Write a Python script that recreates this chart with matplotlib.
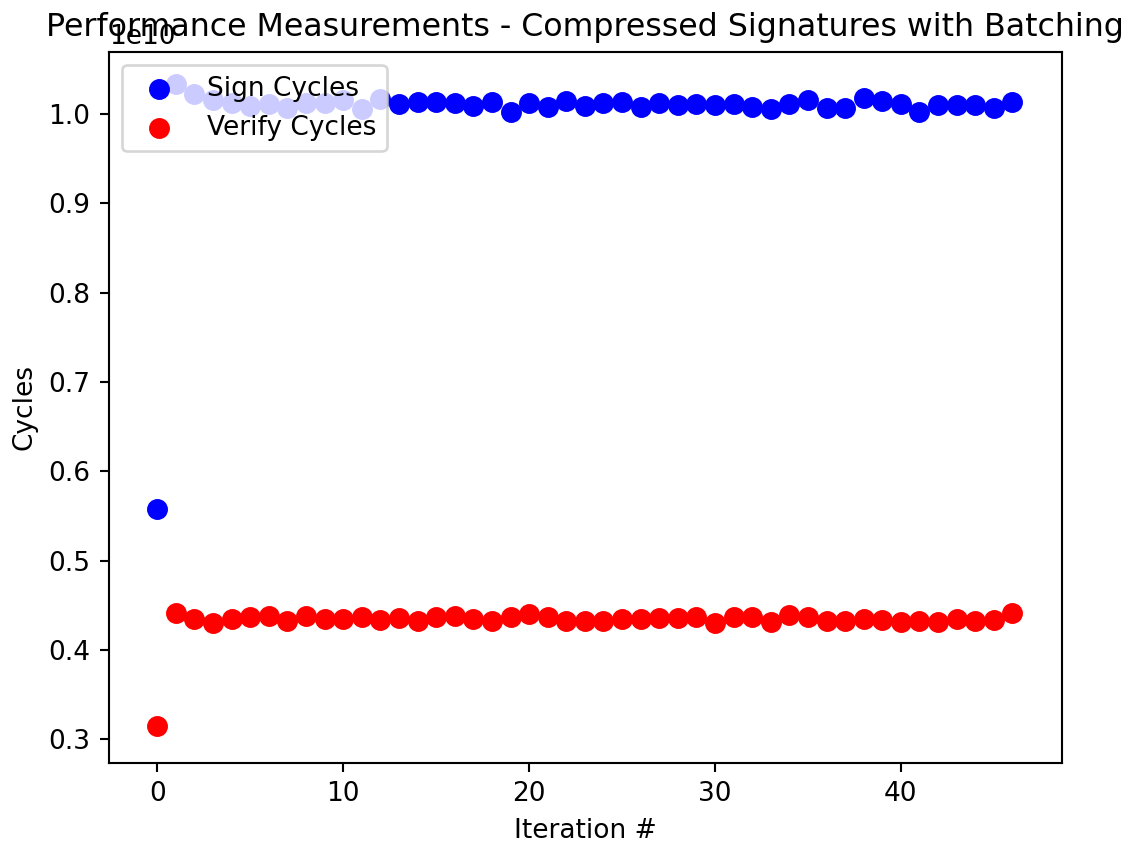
import matplotlib
matplotlib.use("Agg")
import matplotlib.pyplot as plt

iterations = list(range(47))
sign_cycles = [0.5578, 1.0333, 1.0220, 1.0157, 1.0120, 1.0090, 1.0110, 1.0070,
               1.0120, 1.0120, 1.0157, 1.0053, 1.0164, 1.0110, 1.0138, 1.0131,
               1.0120, 1.0093, 1.0138, 1.0026, 1.0120, 1.0078, 1.0146, 1.0093,
               1.0120, 1.0138, 1.0082, 1.0120, 1.0101, 1.0108, 1.0101, 1.0112,
               1.0075, 1.0056, 1.0112, 1.0157, 1.0071, 1.0071, 1.0175, 1.0149,
               1.0108, 1.0026, 1.0101, 1.0101, 1.0101, 1.0071, 1.0131]
verify_cycles = [0.3146, 0.4411, 0.4343, 0.4305, 0.4343, 0.4372, 0.4380, 0.4328,
                 0.4380, 0.4343, 0.4343, 0.4366, 0.4336, 0.4355, 0.4324, 0.4366,
                 0.4380, 0.4343, 0.4324, 0.4366, 0.4403, 0.4366, 0.4328, 0.4328,
                 0.4328, 0.4343, 0.4343, 0.4355, 0.4355, 0.4366, 0.4298, 0.4366,
                 0.4372, 0.4309, 0.4391, 0.4366, 0.4328, 0.4328, 0.4343, 0.4336,
                 0.4317, 0.4324, 0.4317, 0.4343, 0.4324, 0.4336, 0.4411]

sign_cycles = [v * 1e10 for v in sign_cycles]
verify_cycles = [v * 1e10 for v in verify_cycles]

dpi = 190
fig = plt.figure(figsize=(1142 / dpi, 849 / dpi), dpi=dpi)
ax = fig.add_axes([0.0954, 0.1016, 0.9297 - 0.0954, 0.9388 - 0.1016])

ax.scatter(iterations, sign_cycles, color="blue", s=48, label="Sign Cycles")
ax.scatter(iterations, verify_cycles, color="red", s=48, label="Verify Cycles")

ax.set_xlim(-2.6, 48.65)
ax.set_ylim(0.2738e10, 1.0694e10)

# fixed y so the title sits right on the axes, over the 1e10 offset text
ax.set_title("Performance Measurements - Compressed Signatures with Batching", y=1.0)
ax.set_xlabel("Iteration #")
ax.set_ylabel("Cycles")
ax.legend(loc="upper left")

fig.savefig("out.png", dpi=dpi)
